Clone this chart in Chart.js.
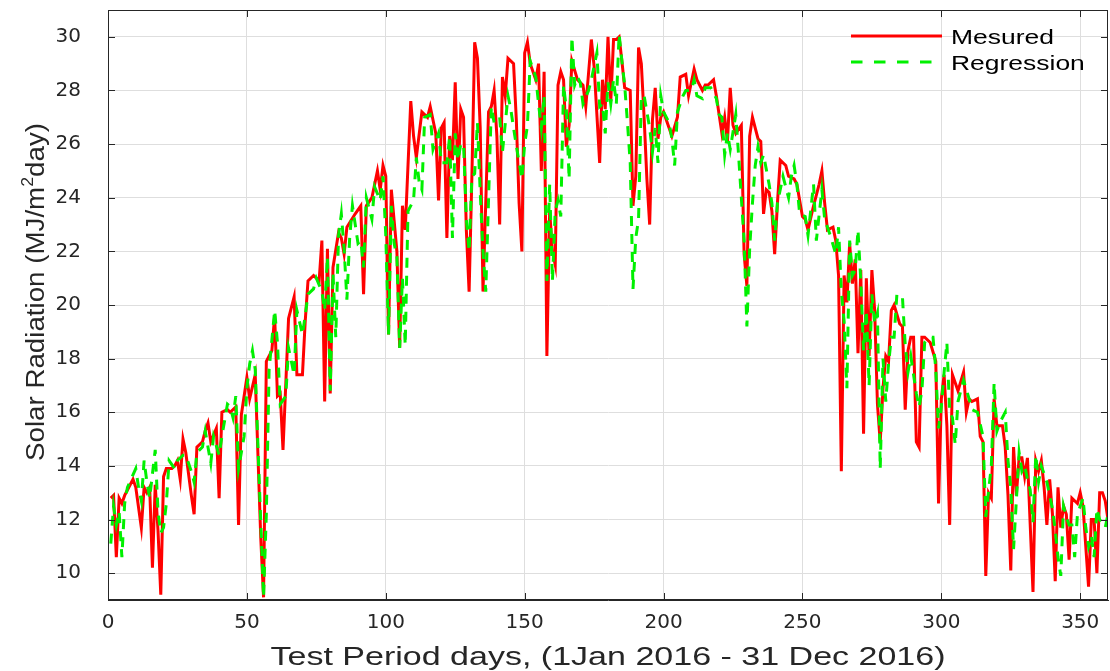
<!DOCTYPE html>
<html>
<head>
<meta charset="utf-8">
<script src="https://cdn.jsdelivr.net/npm/chart.js@4.4.1/dist/chart.umd.min.js"></script>
<style>
html,body{margin:0;padding:0;background:#ffffff;}
canvas{display:block;}
</style>
</head>
<body>
<canvas id="c" width="1110" height="671"></canvas>
<script>
// ---- data ----
const measuredDays = [
  1,2,3,4,5,6,7,9,10,12,
  13,14,15,16,17,18,19,20,21,23,
  24,25,26,27,28,30,31,32,34,35,
  36,37,39,40,41,43,44,46,47,48,
  50,51,53,55,56,57,59,60,61,62,
  63,65,67,68,70,71,72,74,76,77,
  78,79,80,81,83,84,85,86,89,91,
  92,93,95,97,98,99,100,101,102,104,
  105,106,107,109,110,111,113,115,116,118,
  119,120,121,122,123,124,125,126,127,128,
  129,130,131,132,133,134,135,137,138,139,
  140,141,142,143,144,146,147,148,149,150,
  151,152,154,155,156,157,158,159,160,161,
  162,163,164,165,166,167,169,171,172,174,
  175,177,178,179,180,181,182,183,184,185,
  186,188,189,190,191,192,193,194,195,196,
  197,198,199,200,202,203,205,206,208,209,
  211,212,214,215,216,218,219,221,222,223,
  224,225,226,228,229,230,231,232,234,235,
  236,237,238,239,240,241,242,244,245,247,
  248,249,250,251,252,254,256,257,258,259,
  261,262,263,264,265,266,267,268,269,270,
  271,272,273,274,275,276,277,278,279,280,
  281,282,283,285,286,287,288,289,290,291,
  292,293,294,296,298,299,300,301,302,303,
  304,305,306,308,309,310,311,313,314,315,
  316,317,318,319,320,321,322,323,324,325,
  326,327,328,329,330,331,333,334,335,336,
  337,338,339,340,341,342,343,344,345,346,
  347,349,350,351,353,354,355,356,357,358,
  359,360,361,362
];
const measuredValues = [
  12.8,12.9,10.6,12.8,12.6,12.9,13.1,13.5,13.2,11.7,
  13.2,13.0,13.2,10.2,13.3,11.6,9.2,13.6,13.9,13.9,
  14.0,14.2,13.5,15.0,14.5,12.9,12.2,14.7,14.9,15.3,
  15.6,14.9,15.4,12.8,16.0,16.1,16.0,16.2,11.8,15.9,
  17.3,16.5,17.4,11.3,9.1,17.9,18.3,19.6,16.6,16.7,
  14.6,19.5,20.3,17.4,17.4,19.4,20.9,21.1,20.9,22.4,
  16.4,22.1,16.7,21.4,22.7,22.5,21.9,22.9,23.4,23.7,
  20.4,23.7,24.0,25.0,24.3,25.2,24.8,18.9,24.3,22.0,
  18.4,23.7,22.8,27.6,26.3,25.5,27.2,27.0,27.4,26.4,
  23.9,26.6,26.8,22.5,26.3,25.4,28.3,24.7,27.3,27.0,
  22.8,20.5,24.8,29.8,29.2,26.6,20.5,27.2,27.4,28.0,
  26.3,23.0,28.5,27.8,29.2,29.0,26.9,23.8,22.0,29.4,
  29.8,29.0,28.4,29.0,25.0,28.7,18.1,23.5,22.0,21.5,
  28.2,28.7,28.4,25.9,26.7,29.1,28.4,28.2,27.4,29.9,
  28.9,25.3,28.4,27.3,30.0,27.6,29.9,29.9,30.0,29.1,
  28.1,28.0,23.7,24.8,29.6,29.0,27.0,24.7,23.0,26.9,
  28.1,26.2,27.0,27.2,26.6,26.3,27.0,28.5,28.6,27.8,
  28.8,28.4,28.0,28.2,28.2,28.4,27.8,26.4,27.0,26.1,
  28.1,26.7,26.4,26.7,21.9,20.7,26.3,27.0,26.2,26.1,
  23.4,24.3,24.2,23.5,21.9,23.8,25.4,25.2,24.8,24.7,
  24.5,23.9,23.3,23.2,22.8,23.7,24.5,25.0,23.8,22.8,
  22.9,22.4,21.1,13.8,21.1,20.1,22.3,20.8,21.7,18.2,
  21.3,15.2,21.0,18.1,21.3,19.8,16.3,14.9,16.9,18.1,
  17.9,19.8,20.0,19.3,19.2,16.1,18.3,18.8,18.8,14.9,
  14.7,18.8,18.8,18.6,17.9,12.6,16.5,17.4,15.5,11.8,
  17.4,17.1,16.8,17.5,16.0,16.5,16.4,16.5,15.1,14.9,
  9.9,13.0,12.8,16.5,15.5,15.5,15.5,14.7,12.9,10.1,
  14.7,12.9,14.3,14.3,13.6,14.3,9.3,14.2,13.8,14.2,
  13.2,11.8,13.5,12.2,9.7,13.2,11.7,12.5,12.2,10.5,
  12.8,12.6,13.0,12.5,9.5,12.0,12.0,10.0,13.0,13.0,
  12.7,12.0,12.9,12.0
];
const regressionDays = [
  1,2,3,4,5,6,7,10,11,12,
  13,14,15,17,18,19,20,21,22,24,
  25,27,28,30,31,32,34,35,37,38,
  40,41,43,44,45,46,47,49,50,51,
  52,53,54,55,56,57,58,60,61,62,
  64,65,67,68,70,71,72,74,75,77,
  78,79,80,81,82,83,84,85,86,87,
  88,89,90,91,92,93,95,96,98,99,
  100,101,102,103,104,105,106,107,108,110,
  111,112,113,114,116,117,119,120,122,123,
  124,125,126,127,128,129,130,131,132,133,
  134,135,136,138,139,141,142,144,145,146,
  148,149,150,151,152,153,154,155,156,157,
  158,159,160,161,162,163,164,165,166,167,
  168,169,170,171,173,174,176,177,178,179,
  180,181,182,183,184,185,186,187,188,189,
  190,191,192,193,195,196,197,198,199,200,
  202,203,204,205,207,208,210,211,212,214,
  215,217,219,220,221,222,223,224,226,227,
  228,229,230,231,232,233,234,235,236,238,
  239,240,241,242,243,245,246,247,248,249,
  251,252,254,255,257,258,260,262,263,264,
  265,266,267,268,269,270,271,272,273,274,
  275,276,277,278,279,280,281,282,283,284,
  286,287,288,289,291,292,293,294,296,297,
  298,299,300,301,302,303,304,305,306,307,
  308,310,311,313,315,316,318,319,320,321,
  323,324,325,326,328,329,330,331,332,333,
  334,335,336,337,338,340,341,342,343,344,
  345,346,347,348,349,351,352,353,354,355,
  356,357,359,360,362
];
const regressionValues = [
  11.1,12.5,11.8,12.3,10.6,12.6,13.2,13.9,13.2,12.7,
  14.2,13.4,12.8,14.6,12.3,11.5,11.7,12.6,14.2,13.9,
  14.2,14.4,14.4,13.8,13.4,14.5,14.7,15.3,14.1,15.1,
  14.4,15.1,16.3,16.2,15.8,16.6,13.9,15.1,16.9,17.8,
  18.3,17.6,14.7,11.9,9.1,12.2,17.6,19.8,18.6,16.3,
  16.6,18.4,17.4,19.8,18.9,19.6,20.4,20.6,21.0,20.5,
  19.8,21.8,16.8,21.2,18.8,22.6,23.4,22.1,20.2,22.5,
  23.7,23.0,22.3,22.4,21.4,24.0,23.2,24.4,23.9,24.8,
  22.6,18.9,23.7,22.3,21.8,18.4,21.0,18.5,23.5,23.9,
  25.5,24.6,24.3,27.0,27.1,25.8,26.4,25.3,25.3,26.3,
  22.5,26.4,25.4,26.0,26.0,23.2,22.0,24.8,24.9,26.8,
  24.2,22.0,20.5,27.4,26.8,27.0,25.7,27.8,27.3,26.6,
  25.3,24.7,26.0,26.7,29.1,28.8,28.5,27.5,26.6,27.8,
  20.9,24.5,20.9,23.5,23.9,23.3,28.2,27.3,24.7,30.0,
  28.2,28.5,28.3,27.5,28.0,28.4,29.4,27.4,27.5,26.4,
  28.3,27.5,28.4,27.5,30.1,29.1,28.2,26.8,25.3,20.6,
  22.5,23.2,27.8,27.8,26.6,25.7,26.6,25.3,27.8,27.2,
  26.8,26.2,25.2,27.2,27.8,28.0,28.0,28.4,27.8,27.7,
  28.1,28.1,27.7,27.1,27.0,25.6,26.4,25.8,27.1,25.6,
  24.0,22.4,19.2,22.1,23.8,25.2,25.9,25.3,25.6,24.5,
  23.8,22.4,23.8,24.3,24.8,24.0,24.8,25.2,24.5,23.4,
  23.3,22.6,24.5,22.4,24.3,23.2,22.6,21.9,22.9,20.5,
  19.4,16.9,22.4,21.1,21.3,22.8,20.9,18.3,19.8,17.0,
  20.4,19.3,19.7,13.9,18.0,16.4,17.8,18.8,18.8,20.4,
  20.3,18.5,17.5,18.1,16.7,16.2,16.8,18.6,18.8,18.8,
  17.6,15.4,16.2,17.5,18.6,16.0,15.8,14.8,16.4,16.8,
  17.2,16.5,16.1,16.0,15.1,12.1,14.0,17.1,15.3,15.6,
  16.0,14.2,13.2,10.9,14.5,13.8,14.0,13.5,13.1,11.9,
  14.4,13.4,14.0,13.7,13.4,12.4,11.6,10.6,9.9,12.5,
  12.1,11.8,11.8,10.6,12.2,12.8,11.7,11.0,11.4,10.6,
  12.4,12.0,11.7,12.2,12.0
];
const xTickValues = [0,50,100,150,200,250,300,350];
const yTickValues = [10,12,14,16,18,20,22,24,26,28,30];
const seriesNames = ['Mesured','Regression'];
const xAxisTitle = 'Test Period days, (1Jan 2016 - 31 Dec 2016)';
const yAxisTitleParts = ['Solar Radiation (MJ/m', '2', 'day)'];

// ---- styles ----
const RED = '#ff0000';
const GREEN = '#00f000';
const AXIS = '#262626';
const GRID = '#dedede';

const toPoints = (xs, ys) => xs.map((d, i) => ({x: d, y: ys[i]}));

const decorations = {
  id: 'decorations',
  afterDraw(chart) {
    const {ctx, chartArea: a, scales: {x, y}} = chart;
    ctx.save();
    // box
    ctx.strokeStyle = AXIS;
    ctx.lineWidth = 1;
    ctx.setLineDash([]);
    ctx.strokeRect(a.left + 0.5, a.top + 0.5, a.right - a.left - 1, a.bottom - a.top - 1);
    // inward ticks
    const L = 7;
    ctx.beginPath();
    xTickValues.forEach(v => {
      const px = Math.round(x.getPixelForValue(v)) + 0.5;
      ctx.moveTo(px, a.bottom); ctx.lineTo(px, a.bottom - L);
      ctx.moveTo(px, a.top); ctx.lineTo(px, a.top + L);
    });
    yTickValues.forEach(v => {
      const py = Math.round(y.getPixelForValue(v)) + 0.5;
      ctx.moveTo(a.left, py); ctx.lineTo(a.left + L, py);
      ctx.moveTo(a.right, py); ctx.lineTo(a.right - L, py);
    });
    ctx.stroke();

    // x axis title
    ctx.fillStyle = AXIS;
    ctx.textAlign = 'left';
    ctx.textBaseline = 'alphabetic';
    ctx.font = '25px "Liberation Sans", Arial, sans-serif';
    const xw = ctx.measureText(xAxisTitle).width;
    const xTarget = 675;
    ctx.save();
    ctx.translate((a.left + a.right) / 2 - xTarget / 2, 665);
    ctx.scale(xTarget / xw, 1);
    ctx.fillText(xAxisTitle, 0, 0);
    ctx.restore();

    // y axis title (rotated)
    const mainFont = '25px "Liberation Sans", Arial, sans-serif';
    const supFont = '16px "Liberation Sans", Arial, sans-serif';
    ctx.font = mainFont;
    const w1 = ctx.measureText(yAxisTitleParts[0]).width;
    const w3 = ctx.measureText(yAxisTitleParts[2]).width;
    ctx.font = supFont;
    const w2 = ctx.measureText(yAxisTitleParts[1]).width;
    const yw = w1 + w2 + w3;
    const yTarget = 338;
    const yCenter = 292;
    ctx.save();
    ctx.translate(44, yCenter + yTarget / 2);
    ctx.rotate(-Math.PI / 2);
    ctx.scale(yTarget / yw, 1);
    ctx.font = mainFont;
    ctx.fillText(yAxisTitleParts[0], 0, 0);
    ctx.font = supFont;
    ctx.fillText(yAxisTitleParts[1], w1, -11);
    ctx.font = mainFont;
    ctx.fillText(yAxisTitleParts[2], w1 + w2, 0);
    ctx.restore();

    // legend
    const lx0 = 851, lx1 = 942, tx = 951;
    const rows = [
      {y: 36, color: RED, dash: [], name: seriesNames[0]},
      {y: 62, color: GREEN, dash: [11.5, 11.5], name: seriesNames[1]}
    ];
    rows.forEach(r => {
      ctx.strokeStyle = r.color;
      ctx.lineWidth = 3;
      ctx.setLineDash(r.dash);
      ctx.beginPath();
      ctx.moveTo(lx0, r.y); ctx.lineTo(lx1, r.y);
      ctx.stroke();
      ctx.setLineDash([]);
      ctx.fillStyle = '#000000';
      ctx.font = '21px "Liberation Sans", Arial, sans-serif';
      ctx.textBaseline = 'alphabetic';
      ctx.save();
      ctx.translate(tx, r.y + 7.5);
      ctx.scale(1.26, 1);
      ctx.fillText(r.name, 0, 0);
      ctx.restore();
    });
    ctx.restore();
  }
};

new Chart(document.getElementById('c'), {
  type: 'line',
  data: {
    datasets: [
      {
        label: seriesNames[0],
        data: toPoints(measuredDays, measuredValues),
        borderColor: RED,
        backgroundColor: RED,
        borderWidth: 3,
        pointRadius: 0,
        tension: 0,
        fill: false,
        order: 2
      },
      {
        label: seriesNames[1],
        data: toPoints(regressionDays, regressionValues),
        borderColor: GREEN,
        backgroundColor: GREEN,
        borderWidth: 3,
        borderDash: [10, 8],
        pointRadius: 0,
        tension: 0,
        fill: false,
        order: 1
      }
    ]
  },
  options: {
    responsive: false,
    animation: false,
    devicePixelRatio: 1,
    layout: {padding: {top: 10, right: 2, left: 0, bottom: 0}},
    plugins: {legend: {display: false}, tooltip: {enabled: false}},
    scales: {
      x: {
        type: 'linear',
        min: 0,
        max: 360,
        afterBuildTicks: s => { s.ticks = xTickValues.map(v => ({value: v})); },
        afterFit: s => { s.height = 71; s.paddingLeft = 0; s.paddingRight = 0; },
        ticks: {
          color: AXIS,
          font: {family: '"DejaVu Sans", sans-serif', size: 20},
          padding: 11,
          maxRotation: 0,
          autoSkip: false
        },
        grid: {color: GRID, lineWidth: 1, drawTicks: false},
        border: {display: true, color: AXIS, width: 1}
      },
      y: {
        type: 'linear',
        min: 9,
        max: 31,
        afterBuildTicks: s => { s.ticks = yTickValues.map(v => ({value: v})); },
        afterFit: s => { s.width = 108; s.paddingTop = 0; s.paddingBottom = 0; },
        ticks: {
          color: AXIS,
          font: {family: '"DejaVu Sans", sans-serif', size: 20},
          padding: 27,
          autoSkip: false
        },
        grid: {color: GRID, lineWidth: 1, drawTicks: false},
        border: {display: true, color: AXIS, width: 1}
      }
    }
  },
  plugins: [decorations]
});
</script>
</body>
</html>
